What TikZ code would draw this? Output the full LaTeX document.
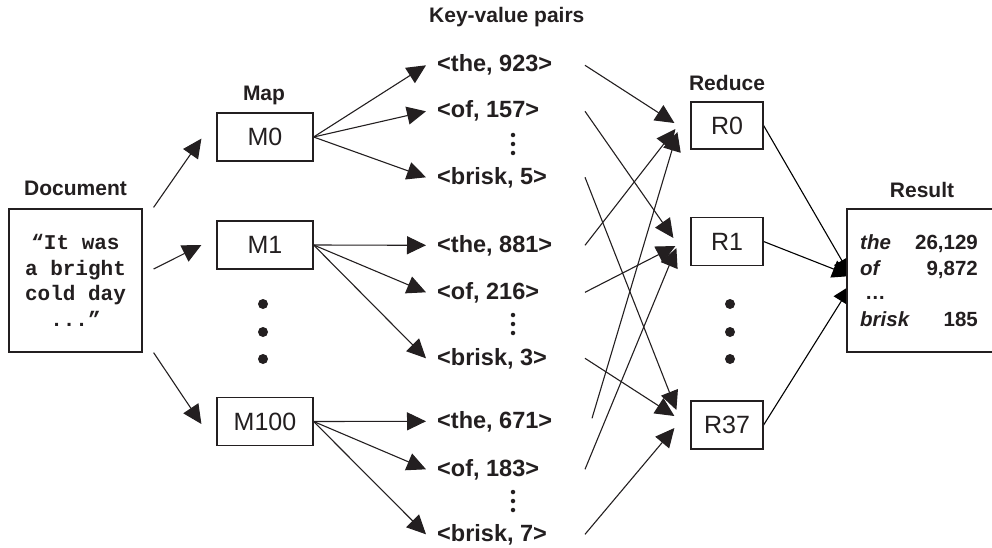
\documentclass[tikz,border=0pt]{standalone}
\usepackage{fontspec}
\setmainfont{Liberation Sans}
\setmonofont{Liberation Mono}
\usetikzlibrary{arrows.meta,calc}
\pgfdeclarelayer{bg}
\pgfsetlayers{bg,main}
\definecolor{ink}{HTML}{231F20}
\begin{document}
\begin{tikzpicture}[x=1pt,y=-1pt,color=ink,
  box/.style={draw=ink, line width=1.2pt, inner sep=0pt, fill=white},
  mbox/.style={box, minimum width=96pt, minimum height=48pt, font=\fontsize{25}{30}\selectfont},
  rbox/.style={box, minimum width=72pt, minimum height=48pt, font=\fontsize{25}{30}\selectfont},
  lbl/.style={font=\bfseries\fontsize{21}{25}\selectfont, inner sep=0pt},
  kv/.style={font=\bfseries\fontsize{23.5}{28}\selectfont, inner sep=0pt, anchor=base west},
  arr/.style={line width=1.1pt, -{Triangle[length=19pt,width=18pt]}},
  bigdot/.style={circle, fill=ink, inner sep=0pt, minimum size=10pt},
  smalldot/.style={circle, fill=ink, inner sep=0pt, minimum size=4.5pt},
  res/.style={font=\bfseries\fontsize{20.5}{24}\selectfont, inner sep=0pt, anchor=base west},
  resn/.style={res, anchor=base east},
]
\useasboundingbox (0,0) rectangle (992,548);

% Document
\node[box, minimum width=133pt, minimum height=143pt, align=center,
      font=\ttfamily\bfseries\fontsize{21}{25.5}\selectfont] (doc) at (75.5,280.5)
      {“It was\\a bright\\cold day\\...”};
\node[lbl] (doclbl) at (75.5,188) {Document};

% Map
\node[lbl] (maplbl) at (264,95) {Map};
\node[mbox] (m0) at (265,137) {M0};
\node[mbox] (m1) at (265,245) {M1};
\node[mbox] (m100) at (265,421.5) {M100};
\node[bigdot] (md1) at (263,304) {};
\node[bigdot] (md2) at (263,332) {};
\node[bigdot] (md3) at (263,359) {};

% Key-value pairs
\node[lbl, anchor=west] (kvlbl) at (429,17) {Key-value pairs};
\node[kv] (kv1) at (437,72) {<the, 923>};
\node[kv] (kv2) at (437,118) {<of, 157>};
\node[kv] (kv3) at (437,184) {<brisk, 5>};
\node[kv] (kv4) at (437,252) {<the, 881>};
\node[kv] (kv5) at (437,299) {<of, 216>};
\node[kv] (kv6) at (437,365) {<brisk, 3>};
\node[kv] (kv7) at (437,428) {<the, 671>};
\node[kv] (kv8) at (437,476) {<of, 183>};
\node[kv] (kv9) at (437,541) {<brisk, 7>};
\foreach \y [count=\i] in {135,144,153,315,324,333,492,501,510}
  \node[smalldot] (sd\i) at (513,\y) {};

% Reduce
\node[lbl] (redlbl) at (727,83) {Reduce};
\node[rbox, minimum height=47pt] (r0) at (727,125.5) {R0};
\node[rbox] (r1) at (727,241.5) {R1};
\node[rbox] (r37) at (727,425) {R37};
\node[bigdot] (rd1) at (730,304) {};
\node[bigdot] (rd2) at (730,332) {};
\node[bigdot] (rd3) at (730,359) {};

% Result
\node[lbl] (reslbl) at (922,190) {Result};
\node[box, minimum width=150pt, minimum height=143pt] (result) at (922,280.5) {};
\node[res] (wthe) at (860,249) {\itshape the};
\node[resn] (nthe) at (978,249) {26,129};
\node[res] (wof) at (860,275) {\itshape of};
\node[resn] (nof) at (978,275) {9,872};
\node[res] (wdots) at (865,299) {…};
\node[res] (wbrisk) at (860,326) {\itshape brisk};
\node[resn] (nbrisk) at (978,326) {185};

% Document -> Map
\draw[arr] ($(doc.north east)+(11,-1)$) -- ($(m0.south west)+(-15,-23)$);
\draw[arr] ($(doc.east)+(11,-11.5)$) -- ($(m1.west)+(-15,0)$);
\draw[arr] ($(doc.south east)+(11,0)$) -- ($(m100.west)+(-15,2.5)$);

% Map -> key-value pairs
\foreach \m/\k in {m0/kv1,m0/kv2,m0/kv3,m1/kv4,m1/kv5,m1/kv6,m100/kv7,m100/kv8,m100/kv9}
  \draw[arr] (\m.east) -- ($(\k.west)+(-11,0)$);

% key-value pairs -> Reduce
\coordinate (xs) at (585,0);
\draw[arr] (kv1.west -| xs) -- ($(r0.west)+(-16,-2.5)$);
\draw[arr] (kv4.west -| xs) -- ($(r0.west)+(-15,3.5)$);
\draw[arr] ($(kv7.west -| xs)+(7,-3)$) -- ($(r0.west)+(-13,6.5)$);
\draw[arr] (kv2.west -| xs) -- ($(r1.west)+(-17,-3.5)$);
\draw[arr] (kv5.west -| xs) -- ($(r1.west)+(-15,4.5)$);
\draw[arr] (kv8.west -| xs) -- ($(r1.west)+(-14,6.5)$);
\draw[arr] (kv3.west -| xs) -- ($(r37.west)+(-14,-15)$);
\draw[arr] (kv6.west -| xs) -- ($(r37.west)+(-16,-9)$);
\draw[arr] (kv9.west -| xs) -- ($(r37.west)+(-16,3)$);

% Reduce -> Result (tips hidden behind the result box)
\begin{pgfonlayer}{bg}
\draw[arr] (r0.east) -- ($(result.west)+(5,-3.5)$);
\draw[arr] (r1.east) -- ($(result.west)+(5,-4.5)$);
\draw[arr] (r37.east) -- ($(result.west)+(5,4.5)$);
\end{pgfonlayer}
\end{tikzpicture}
\end{document}
